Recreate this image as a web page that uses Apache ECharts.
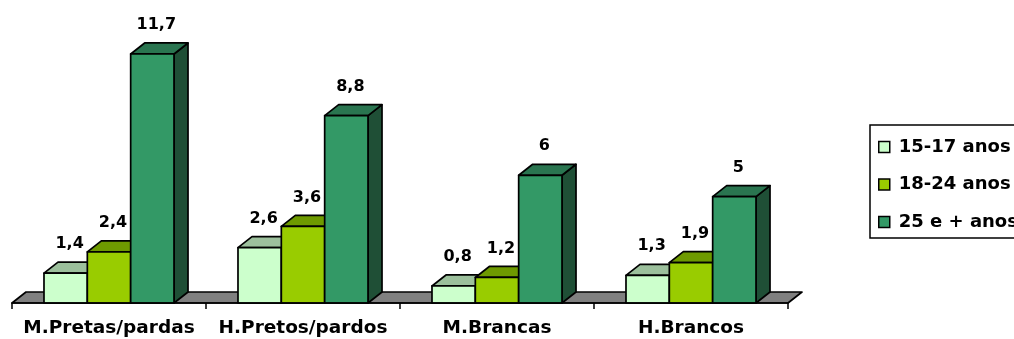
<!DOCTYPE html>
<html>
<head>
<meta charset="utf-8">
<script src="https://cdn.jsdelivr.net/npm/echarts@6/dist/echarts.min.js"></script>
<style>
html,body{margin:0;padding:0;background:#fff;}
#chart{width:1014px;height:339px;}
</style>
</head>
<body>
<div id="chart"></div>
<script>
// ---- data ----
var categories = ['M.Pretas/pardas', 'H.Pretos/pardos', 'M.Brancas', 'H.Brancos'];
var seriesNames = ['15-17 anos', '18-24 anos', '25 e + anos'];
var age15to17 = [1.4, 2.6, 0.8, 1.3];
var age18to24 = [2.4, 3.6, 1.2, 1.9];
var age25plus = [11.7, 8.8, 6, 5];

// ---- styles ----
var FONT = '"DejaVu Sans", "Liberation Sans", Arial, sans-serif';
var DX = 14, DY = 11;          // 3D depth offsets
var BAR_RATIO = 0.2234;        // bar width as fraction of category width
var LW = 1.7;
var palettes = [
  {front: '#CCFFCC', top: '#9CC09C', side: '#7FA07F'},
  {front: '#99CC00', top: '#6E9A00', side: '#4F6E00'},
  {front: '#339966', top: '#2A7550', side: '#1F4F36'}
];

function fmt(v) { return String(v).replace('.', ','); }

function makeBarRender(sIdx) {
  return function (params, api) {
    var cat = api.value(0), val = api.value(1);
    var p = api.coord([cat, val]);
    var b = api.coord([cat, 0]);
    var cw = api.size([1, 0])[0];
    var bw = cw * BAR_RATIO;
    var x0 = p[0] - 1.5 * bw + sIdx * bw;
    var x1 = x0 + bw;
    var yT = p[1], yB = b[1];
    var pal = palettes[sIdx];
    var stroke = {stroke: '#000', lineWidth: LW, lineJoin: 'round'};
    return {
      type: 'group',
      children: [
        {type: 'polygon', shape: {points: [[x1, yT], [x1 + DX, yT - DY], [x1 + DX, yB - DY], [x1, yB]]},
         style: Object.assign({fill: pal.side}, stroke)},
        {type: 'polygon', shape: {points: [[x0, yT], [x1, yT], [x1 + DX, yT - DY], [x0 + DX, yT - DY]]},
         style: Object.assign({fill: pal.top}, stroke)},
        {type: 'rect', shape: {x: x0, y: yT, width: bw, height: yB - yT},
         style: Object.assign({fill: pal.front}, stroke)},
        {type: 'text', z2: 10,
         style: {text: fmt(val), x: (x0 + x1) / 2 + 4, y: yT - DY - 10,
                 align: 'center', verticalAlign: 'bottom',
                 font: 'bold 16px ' + FONT, fill: '#000'}}
      ]
    };
  };
}

function floorRender(params, api) {
  var cs = params.coordSys;
  var y = cs.y + cs.height, xl = cs.x, xr = cs.x + cs.width;
  return {
    type: 'polygon',
    shape: {points: [[xl, y], [xr, y], [xr + DX, y - DY], [xl + DX, y - DY]]},
    style: {fill: '#808080', stroke: '#000', lineWidth: LW, lineJoin: 'round'}
  };
}

var valueArrays = [age15to17, age18to24, age25plus];
var series = [{
  type: 'custom', name: 'floor', renderItem: floorRender,
  data: [[0, 0]], encode: {x: 0, y: 1}, silent: true, z: 1
}];
valueArrays.forEach(function (arr, s) {
  series.push({
    type: 'custom',
    name: seriesNames[s],
    renderItem: makeBarRender(s),
    itemStyle: {color: palettes[s].front, borderColor: '#000', borderWidth: 1},
    data: arr.map(function (v, i) { return [i, v]; }),
    encode: {x: 0, y: 1},
    z: 2 + s
  });
});

var chart = echarts.init(document.getElementById('chart'), null, {renderer: 'canvas'});
chart.setOption({
  animation: false,
  backgroundColor: '#ffffff',
  grid: {left: 12, right: 226, top: 5, bottom: 36, containLabel: false},
  xAxis: {
    type: 'category',
    data: categories,
    boundaryGap: true,
    axisLine: {show: true, lineStyle: {color: '#000', width: 1.5}},
    axisTick: {show: true, alignWithLabel: false, length: 6, lineStyle: {color: '#000', width: 1.5}},
    axisLabel: {color: '#000', fontFamily: FONT, fontWeight: 'bold', fontSize: 18.5, margin: 16, interval: 0},
    z: 10
  },
  yAxis: {
    type: 'value', min: 0, max: 14, show: false,
    splitLine: {show: false}
  },
  legend: {
    orient: 'vertical',
    left: 870, top: 125,
    padding: [13, 16, 7, 8],
    itemGap: 19.5,
    itemWidth: 11, itemHeight: 11,
    borderColor: '#000', borderWidth: 1.5,
    backgroundColor: '#fff',
    selectedMode: false,
    textStyle: {color: '#000', fontFamily: FONT, fontWeight: 'bold', fontSize: 18, lineHeight: 18, padding: [0, 0, 0, 4]},
    data: seriesNames.map(function (n, i) {
      return {name: n, icon: 'rect',
              itemStyle: {color: palettes[i].front, borderColor: '#000', borderWidth: 1.5}};
    })
  },
  series: series
});
</script>
</body>
</html>
